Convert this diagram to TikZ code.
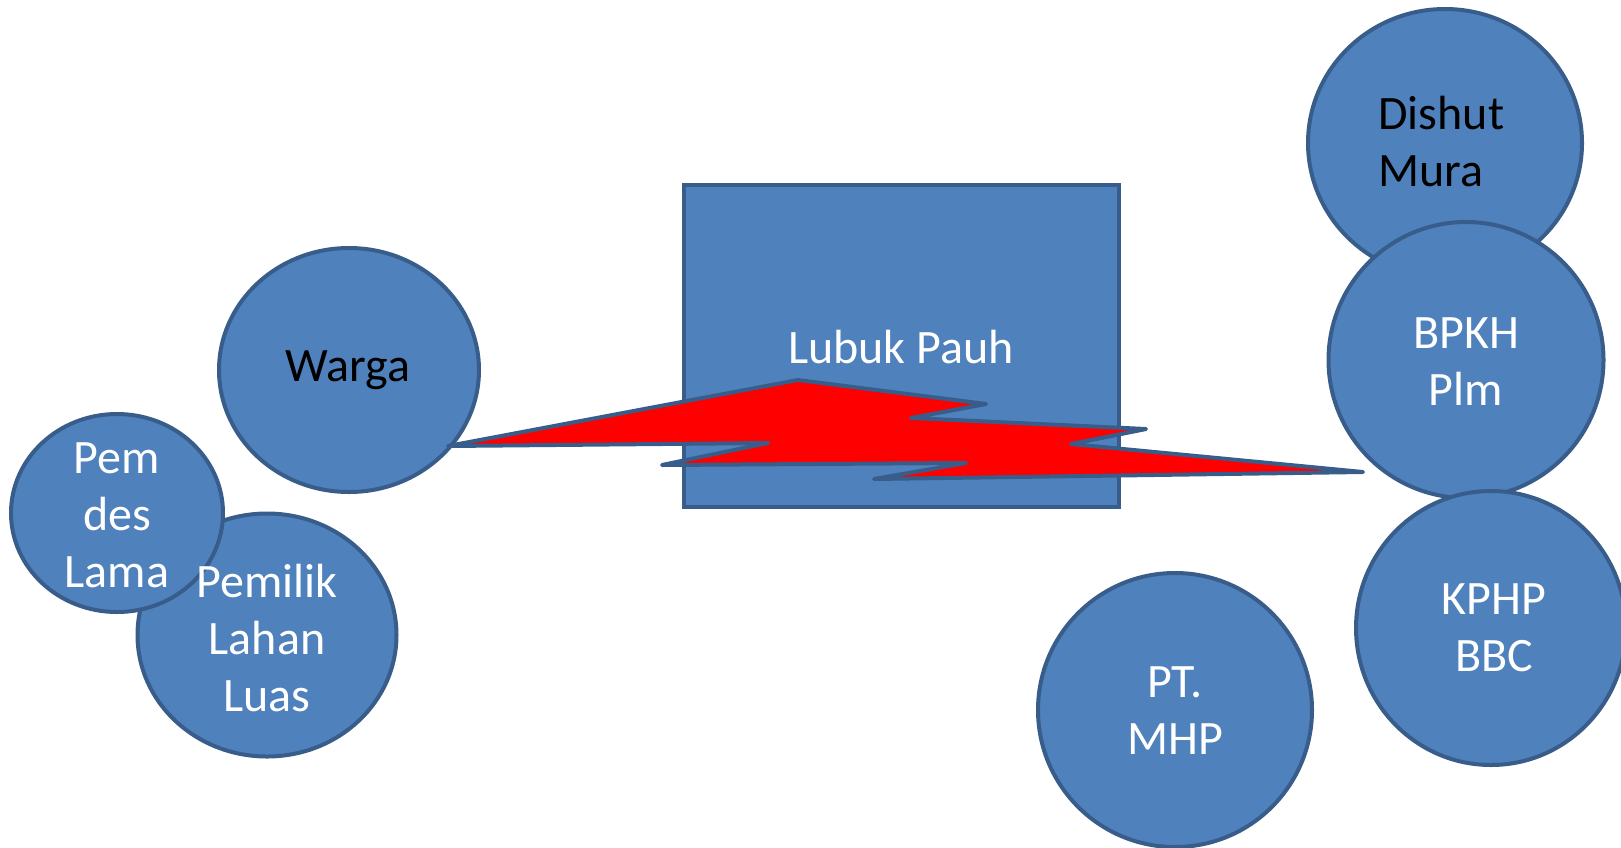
\documentclass[tikz,border=0pt]{standalone}
\usepackage{fontspec}
\setmainfont{Carlito}
\usetikzlibrary{positioning}
\usetikzlibrary{shapes.geometric}
\definecolor{shapeblue}{HTML}{4F81BD}
\definecolor{edgeblue}{HTML}{385D8A}

\begin{document}
\begin{tikzpicture}
        [
            x=0.5pt, y=-0.5pt,
            actor/.style={ellipse, draw=edgeblue, fill=shapeblue, line width=2pt, inner sep=0pt},
            place/.style={rectangle, draw=edgeblue, fill=shapeblue, line width=2pt, inner sep=0pt},
            label/.style={text=white, align=center, inner sep=0pt, font=\fontsize{24}{28.5}\selectfont},
            bolt/.style={draw=edgeblue, fill=red, line width=2pt, line join=round}
        ]
        \useasboundingbox (0,0) rectangle (1621,847);
        %shapes
        \node[actor, minimum width=130pt, minimum height=122pt] at (349,370)      (warga)    {};
        \node[actor, minimum width=129.5pt, minimum height=121.5pt] at (267,635)  (pemilik)  {};
        \node[actor, minimum width=106pt, minimum height=99pt] at (117,513)       (pemdes)   {};
        \node[place, minimum width=217.5pt, minimum height=161pt] at (901.5,346)  (lubuk)    {};
        \node[actor, minimum width=137pt, minimum height=134pt] at (1445,143)     (dishut)   {};
        \node[actor, minimum width=137.5pt, minimum height=138pt] at (1466,360)   (bpkh)     {};
        \node[actor, minimum width=135pt, minimum height=137pt] at (1491,628)     (kphp)     {};
        \node[actor, minimum width=137pt, minimum height=137pt] at (1175,710)     (ptmhp)    {};
        %conflict
        \draw[bolt] (448,446) -- (798,380) -- (986,404) -- (911,418) -- (1146,429) -- (1071,444)
            -- (1363,472) -- (874,479) -- (966,463) -- (662,465) -- (768,443) -- cycle;
        %texts
        \node[label, text=black] at (348,370)                 (warga_t)   {Warga};
        \node[label] at (117,515)                             (pemdes_t)  {Pem\\des\\Lama};
        \node[label] at (267,638)                             (pemilik_t) {Pemilik\\Lahan\\Luas};
        \node[label] at (901,347)                             (lubuk_t)   {Lubuk Pauh};
        \node[label, text=black, align=left, anchor=west] at (1378,142) (dishut_t) {Dishut\\Mura};
        \node[label] at (1466,362)                            (bpkh_t)    {BPKH\\Plm};
        \node[label] at (1494,628)                            (kphp_t)    {KPHP\\BBC};
        \node[label] at (1175,711)                            (ptmhp_t)   {PT.\\MHP};
    \end{tikzpicture}
\end{document}
